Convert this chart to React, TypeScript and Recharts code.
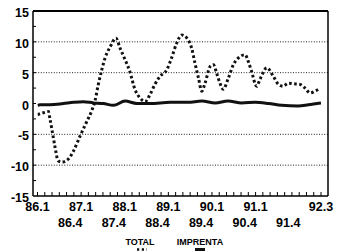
import React from 'react';
import { LineChart, Line, XAxis, YAxis, ReferenceLine, Legend } from 'recharts';

// Time is counted in months from 86.1 (quarter labels sit every 3 months)
const totalMonths = [0, 1.6, 3.0, 3.4, 4.2, 4.8, 5.7, 6.7, 8.5, 9.9, 11.7, 13.5, 14.9, 15.8, 16.7, 17.7, 18.6, 20.0, 21.6, 22.7, 24.1, 25.4, 26.8, 28.2, 29.6, 31.0, 32.3, 33.7, 35.6, 36.9, 38.3, 39.7, 41.1, 42.4, 43.3, 44.3, 45.2, 46.1, 47.5, 48.4, 49.3, 50.2, 51.1, 52.5, 53.9, 55.3, 57.1, 58.0, 58.9, 60.3, 61.2, 63.1, 64.9, 66.3, 67.6, 69.0, 70.4, 72.2, 73.6, 75.0, 76.3, 77.3];
const totalValues = [-1.8, -1.5, -1.3, -2.4, -5, -7, -9.3, -9.5, -9, -7.7, -5.3, -3, -1.2, 0.4, 3, 5.5, 7.4, 9.2, 10.6, 9, 7.1, 5.2, 2.3, 0.9, 0.3, 1.5, 3.1, 4.4, 5.5, 7.4, 9.8, 11.1, 10.6, 9, 6.6, 4.1, 2, 3.3, 6, 6.3, 4.9, 3.3, 2.3, 4.1, 6.3, 7.4, 7.9, 6.8, 5.2, 2.8, 3.9, 5.8, 4.4, 3.1, 2.8, 3.3, 3.2, 3.1, 2.5, 1.7, 2.0, 2.3];

const imprentaMonths = [0, 0.7, 3.4, 7.1, 9.9, 12.6, 15.4, 18.1, 20.9, 24.1, 27.3, 31.0, 36.5, 41.4, 45.2, 48.9, 52.4, 56.2, 59.9, 63.6, 67.2, 71.7, 74.5, 78];
const imprentaValues = [-0.3, -0.2, -0.2, 0, 0.2, 0.3, 0.1, 0, -0.3, 0.4, 0, 0, 0.2, 0.2, 0.4, 0.1, 0.4, 0.1, 0.2, 0, -0.3, -0.4, -0.2, 0.1];

const quarterLabels = ['86.1', '86.4', '87.1', '87.4', '88.1', '88.4', '89.1', '89.4', '90.1', '90.4', '91.1', '91.4', '92.3'];
const quarterLabelMonths = [0, 9, 12, 21, 24, 33, 36, 45, 48, 57, 60, 69, 78];
const quarterLabelRows = [0, 1, 0, 1, 0, 1, 0, 1, 0, 1, 0, 1, 0];

const yTicks = [-15, -12.5, -10, -7.5, -5, -2.5, 0, 2.5, 5, 7.5, 10, 12.5, 15];
const gridValues = [-10, -5, 5, 10];
const legendNames = ['TOTAL', 'IMPRENTA'];

const totalData = totalMonths.map((m, i) => ({ m, v: totalValues[i] }));
const imprentaData = imprentaMonths.map((m, i) => ({ m, v: imprentaValues[i] }));

const evenMonths: number[] = [];
for (let m = 0; m <= 78; m += 2) evenMonths.push(m);
const xTicks = Array.from(new Set([...evenMonths, ...quarterLabelMonths])).sort((a, b) => a - b);

const FONT = "'Liberation Sans', Arial, sans-serif";

const XTick = (props: any) => {
  const { x, y, payload } = props;
  const v = payload.value;
  const idx = quarterLabelMonths.indexOf(v);
  return (
    <g>
      {v % 2 === 0 && <line x1={x} x2={x} y1={y} y2={y - 4} stroke="#000" strokeWidth={1} />}
      {idx >= 0 && (
        <text x={x} y={y + (quarterLabelRows[idx] === 0 ? 15 : 31)} textAnchor="middle" fontFamily={FONT} fontWeight="bold" fontSize={12.5} fill="#000">
          {quarterLabels[idx]}
        </text>
      )}
    </g>
  );
};

const makeYTick = (side: 'left' | 'right') => (props: any) => {
  const { x, y, payload } = props;
  const v = payload.value;
  const major = v % 5 === 0;
  const dir = side === 'left' ? 1 : -1;
  return (
    <g>
      {Math.abs(v) !== 15 && <line x1={x} x2={x + dir * 3} y1={y} y2={y} stroke="#000" strokeWidth={1} />}
      {major && (
        <text x={side === 'left' ? x - 4 : x + 3} y={y + 6} textAnchor={side === 'left' ? 'end' : 'start'} fontFamily={FONT} fontWeight="bold" fontSize={12.5} fill="#000">
          {String(v)}
        </text>
      )}
    </g>
  );
};

const LegendContent = () => (
  <svg width={353} height={25} style={{ display: 'block' }}>
    <text x={140} y={19} textAnchor="middle" fontFamily={FONT} fontWeight="bold" fontSize={9} fill="#000">{legendNames[0]}</text>
    <text x={200} y={19} textAnchor="middle" fontFamily={FONT} fontWeight="bold" fontSize={9} fill="#000">{legendNames[1]}</text>
    <line x1={137} x2={147} y1={23.5} y2={23.5} stroke="#111" strokeWidth={2.5} strokeDasharray="2.2 2.6" />
    <line x1={195} x2={205} y1={23.5} y2={23.5} stroke="#111" strokeWidth={3} />
  </svg>
);

export default function App() {
  return (
    <div style={{ position: 'absolute', left: 0, top: 0, width: 353, height: 251, background: '#fff' }}>
      <LineChart width={353} height={251} margin={{ top: 11, right: 0, left: 0, bottom: 0 }}>
        <XAxis
          dataKey="m"
          type="number"
          domain={[0, 78]}
          ticks={xTicks}
          interval={0}
          padding={{ left: 4.5, right: 7 }}
          height={30}
          tickSize={0}
          tickMargin={0}
          tick={<XTick />}
          axisLine={{ stroke: '#000', strokeWidth: 1.5 }}
          allowDataOverflow
        />
        <YAxis
          yAxisId="l"
          orientation="left"
          width={33}
          domain={[-15, 15]}
          ticks={yTicks}
          interval={0}
          tickSize={0}
          tickMargin={0}
          tick={makeYTick('left')}
          axisLine={{ stroke: '#000', strokeWidth: 1.5 }}
        />
        <YAxis
          yAxisId="r"
          orientation="right"
          width={25}
          domain={[-15, 15]}
          ticks={yTicks}
          interval={0}
          tickSize={0}
          tickMargin={0}
          tick={makeYTick('right')}
          axisLine={{ stroke: '#000', strokeWidth: 1.5 }}
        />
        {gridValues.map((g) => (
          <ReferenceLine key={g} yAxisId="l" y={g} stroke="#222" strokeWidth={1} strokeDasharray="1 1.6" />
        ))}
        <ReferenceLine yAxisId="l" y={15} stroke="#000" strokeWidth={1.8} />
        <Legend verticalAlign="bottom" height={25} wrapperStyle={{ left: 0, width: 353, height: 25 }} content={<LegendContent />} />
        <Line
          yAxisId="l"
          data={imprentaData}
          dataKey="v"
          name={legendNames[1]}
          type="monotone"
          stroke="#111"
          strokeWidth={3}
          dot={false}
          isAnimationActive={false}
        />
        <Line
          yAxisId="l"
          data={totalData}
          dataKey="v"
          name={legendNames[0]}
          type="monotone"
          stroke="#111"
          strokeWidth={3}
          strokeDasharray="2.6 2.5"
          dot={false}
          isAnimationActive={false}
        />
      </LineChart>
    </div>
  );
}
